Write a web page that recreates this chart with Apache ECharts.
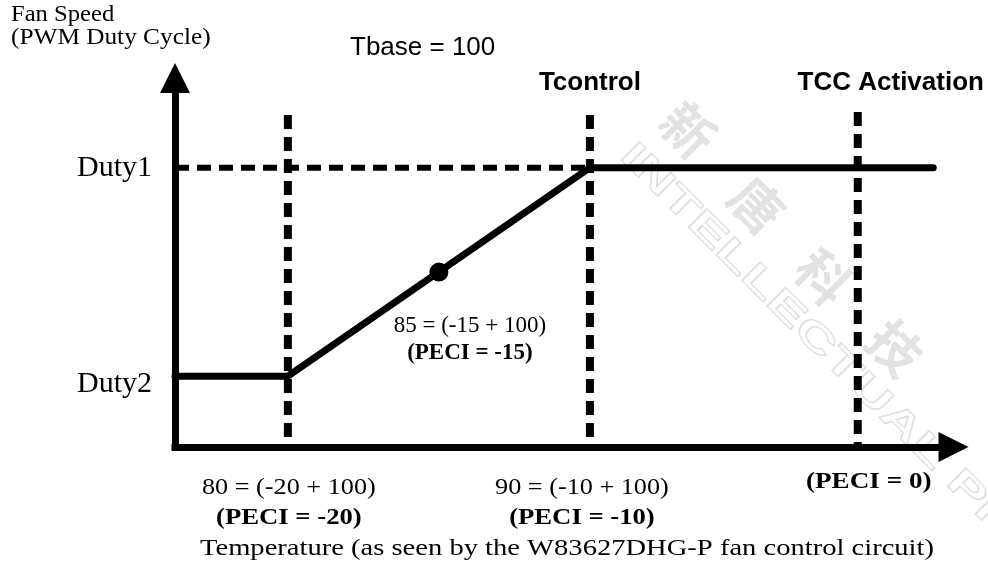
<!DOCTYPE html>
<html>
<head>
<meta charset="utf-8">
<script src="https://cdn.jsdelivr.net/npm/echarts@6/dist/echarts.min.js"></script>
<style>
html,body{margin:0;padding:0;background:#fff;}
#chart{width:988px;height:569px;}
</style>
</head>
<body>
<div id="chart"></div>
<script>
// ---- data (schematic axis units, 0..100 on both axes) ----
const curveX = [0, 14.5, 53.3, 97.4];
const curveY = [19.2, 19.2, 75.7, 75.7];
const midPoint = [33.9, 47.4];
const midLabels = ['85 = (-15 + 100)', '(PECI = -15)'];
const markX = [14.5, 53.3, 87.7];
const markTop = [90, 90, 90.8];
const markTitles = ['', 'Tcontrol', 'TCC Activation'];
const tempLabels = ['80 = (-20 + 100)', '90 = (-10 + 100)', ''];
const peciLabels = ['(PECI = -20)', '(PECI = -10)', '(PECI = 0)'];
const dutyNames = ['Duty1', 'Duty2'];
const dutyValues = [75.7, 19.2];
const yAxisTitle = ['Fan Speed', '(PWM Duty Cycle)'];
const xAxisTitle = 'Temperature (as seen by the W83627DHG-P fan control circuit)';
const tbaseLabel = 'Tbase = 100';
const watermarkChars = ['新', '唐', '科', '技'];
const watermarkText = 'INTELLECTUAL PROPERTY';

const SERIF = '"Liberation Serif","Times New Roman",serif';
const SANS = '"Liberation Sans",Arial,sans-serif';

const chart = echarts.init(document.getElementById('chart'), null, {renderer: 'canvas'});

const series = [];
// vertical dashed marker lines (drawn top-down so the dash pattern starts at the top)
markX.forEach((x, i) => {
  series.push({
    type: 'line', silent: true, symbol: 'none', z: 3,
    data: [[x, markTop[i]], [x, 0]],
    lineStyle: {color: '#000', width: 8, type: [14, 8]}
  });
});
// horizontal dashed Duty1 guide up to Tcontrol
series.push({
  type: 'line', silent: true, symbol: 'none', z: 3,
  data: [[0, dutyValues[0]], [markX[1], dutyValues[0]]],
  lineStyle: {color: '#000', width: 6, type: [14, 8]}
});
// fan curve
series.push({
  type: 'line', silent: true, symbol: 'none', z: 4,
  data: curveX.map((x, i) => [x, curveY[i]]),
  lineStyle: {color: '#000', width: 7, cap: 'round', join: 'round'}
});
// midpoint
series.push({
  type: 'scatter', silent: true, z: 5,
  data: [midPoint], symbolSize: 19,
  itemStyle: {color: '#000', opacity: 1}
});

const axisCommon = {
  type: 'value', min: 0, max: 100,
  axisLine: {show: true, onZero: false, symbol: ['none', 'triangle'], symbolSize: [30, 30],
    lineStyle: {color: '#000', width: 7, cap: 'square'}},
  axisTick: {show: false}, axisLabel: {show: false}, splitLine: {show: false}
};

chart.setOption({
  animation: false,
  backgroundColor: '#fff',
  grid: {left: 175, right: 34.5, top: 78, bottom: 122},
  xAxis: axisCommon,
  yAxis: axisCommon,
  series: series
});

// ---- text annotations anchored to data positions ----
const px = (x, y) => chart.convertToPixel({gridIndex: 0}, [x, y]);
const g = [];
function txt(text, x, y, font, align, sx, extra) {
  g.push(Object.assign({
    type: 'text', x: x, y: y, silent: true, scaleX: sx || 1,
    style: {text: text, font: font, fill: '#000', align: align || 'center', verticalAlign: 'middle'}
  }, extra || {}));
}
// faint watermark
const wmPos = [[688, 130], [757, 205], [823, 277], [895, 348]];
watermarkChars.forEach((c, i) => {
  g.push({type: 'text', x: wmPos[i][0], y: wmPos[i][1], rotation: -Math.PI / 4, z: -10, silent: true,
    style: {text: c, font: 'bold 52px "Noto Sans CJK TC",sans-serif', fill: '#e2e2e2', align: 'center', verticalAlign: 'middle'}});
});
g.push({type: 'text', x: 626, y: 150, rotation: -Math.PI / 4, scaleX: 1.55, z: -10, silent: true,
  style: {text: watermarkText, font: 'bold 38px ' + SANS, fill: 'none', stroke: '#dedede', lineWidth: 1.2,
    align: 'left', verticalAlign: 'middle'}});

// y-axis title
txt(yAxisTitle[0], 11, 15, '23px ' + SERIF, 'left', 1.07);
txt(yAxisTitle[1], 11, 38, '23px ' + SERIF, 'left', 1.1);
txt(tbaseLabel, 350, 48, '26px ' + SANS, 'left');
// mark titles
const titleDx = [0, 0, 33];
markX.forEach((x, i) => {
  if (markTitles[i]) txt(markTitles[i], px(x, 0)[0] + titleDx[i], 83, 'bold 26px ' + SANS);
});
// duty labels
const dutyDy = [0, 8];
dutyNames.forEach((n, i) => {
  txt(n, 152, px(0, dutyValues[i])[1] + dutyDy[i], '30px ' + SERIF, 'right');
});
// temperature / PECI labels under the x axis
const labelDx = [1, -8, 11];
markX.forEach((x, i) => {
  const cx = px(x, 0)[0] + labelDx[i];
  if (tempLabels[i]) {
    txt(tempLabels[i], cx, 488, '23px ' + SERIF, 'center', 1.14);
    txt(peciLabels[i], cx, 518, 'bold 23px ' + SERIF, 'center', 1.16);
  } else {
    txt(peciLabels[i], cx, 482, 'bold 23px ' + SERIF, 'center', 1.18);
  }
});
// midpoint labels
const mp = px(midPoint[0], midPoint[1]);
txt(midLabels[0], mp[0] + 31, mp[1] + 54, '23px ' + SERIF);
txt(midLabels[1], mp[0] + 31, mp[1] + 81, 'bold 23px ' + SERIF);
// x-axis title
txt(xAxisTitle, 567, 549, '24px ' + SERIF, 'center', 1.19);

chart.setOption({graphic: g});
</script>
</body>
</html>
